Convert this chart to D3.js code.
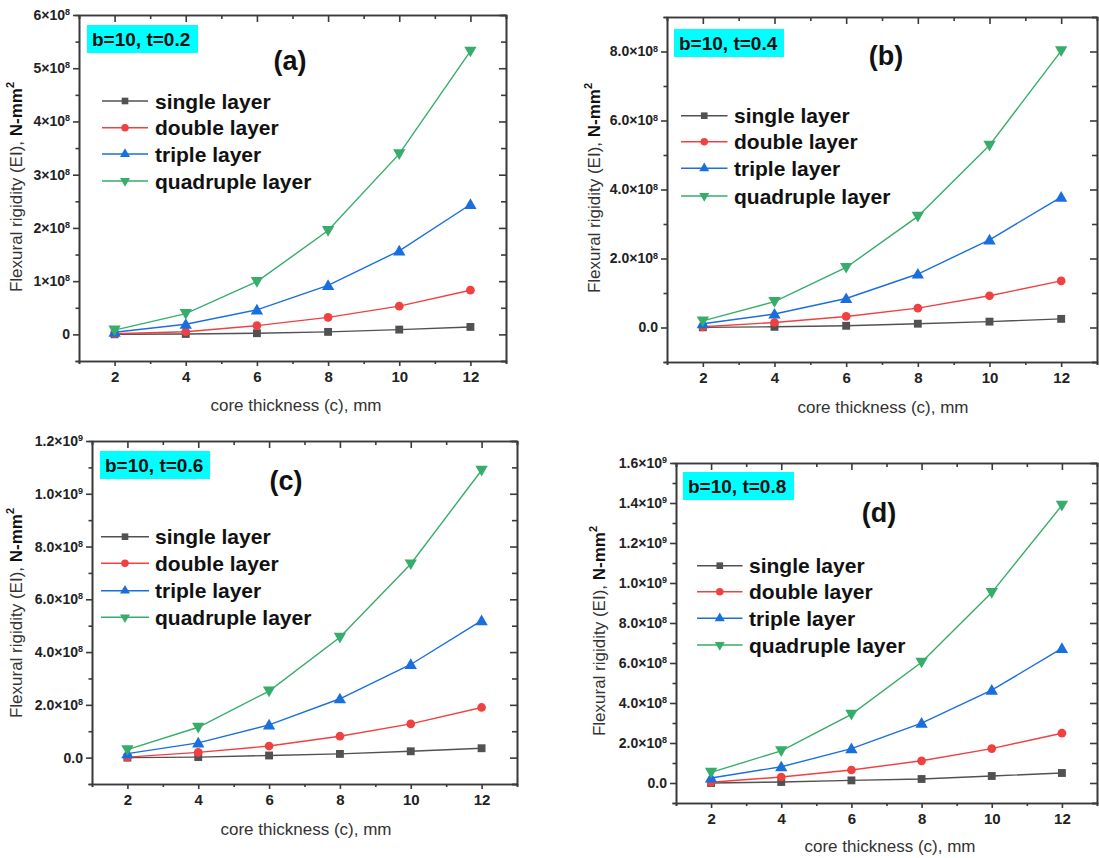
<!DOCTYPE html>
<html>
<head>
<meta charset="utf-8">
<script src="https://cdn.jsdelivr.net/npm/d3@7"></script>
<style>
  body { margin: 0; background: #fff; }
  svg { display: block; }
  text { font-family: "Liberation Sans", Arial, Helvetica, sans-serif; }
</style>
</head>
<body>
<svg id="fig" width="1099" height="858"></svg>
<script>
// Core thickness (c), mm
const thickness = [2, 4, 6, 8, 10, 12];
const xTickValues = [2, 4, 6, 8, 10, 12];
const seriesNames = ["single layer", "double layer", "triple layer", "quadruple layer"];
const panelLetters = ["(a)", "(b)", "(c)", "(d)"];
const panelTags = ["b=10, t=0.2", "b=10, t=0.4", "b=10, t=0.6", "b=10, t=0.8"];

// Flexural rigidity EI (N-mm²), t = 0.2
const singleA = [0.002e8, 0.008e8, 0.022e8, 0.047e8, 0.09e8, 0.14e8];
const doubleA = [0.012e8, 0.05e8, 0.165e8, 0.32e8, 0.53e8, 0.83e8];
const tripleA = [0.04e8, 0.19e8, 0.46e8, 0.92e8, 1.57e8, 2.44e8];
const quadA   = [0.08e8, 0.39e8, 0.99e8, 1.95e8, 3.39e8, 5.32e8];

// t = 0.4
const singleB = [0.005e8, 0.02e8, 0.05e8, 0.11e8, 0.17e8, 0.25e8];
const doubleB = [0.02e8, 0.145e8, 0.32e8, 0.56e8, 0.92e8, 1.35e8];
const tripleB = [0.11e8, 0.39e8, 0.84e8, 1.55e8, 2.54e8, 3.78e8];
const quadB   = [0.19e8, 0.75e8, 1.74e8, 3.22e8, 5.28e8, 8.02e8];

// t = 0.6
const singleC = [0.0e8, 0.02e8, 0.08e8, 0.14e8, 0.24e8, 0.355e8];
const doubleC = [0.02e8, 0.2e8, 0.44e8, 0.81e8, 1.28e8, 1.90e8];
const tripleC = [0.15e8, 0.56e8, 1.24e8, 2.23e8, 3.53e8, 5.19e8];
const quadC   = [0.30e8, 1.15e8, 2.52e8, 4.56e8, 7.34e8, 10.89e8];

// t = 0.8
const singleD = [0.0e8, 0.05e8, 0.13e8, 0.2e8, 0.35e8, 0.5e8];
const doubleD = [0.04e8, 0.3e8, 0.65e8, 1.11e8, 1.72e8, 2.49e8];
const tripleD = [0.25e8, 0.81e8, 1.72e8, 2.99e8, 4.64e8, 6.73e8];
const quadD   = [0.53e8, 1.61e8, 3.43e8, 6.04e8, 9.52e8, 13.88e8];

// Y axis tick values per panel
const yTicksA = [0, 1e8, 2e8, 3e8, 4e8, 5e8, 6e8];
const yTicksB = [0, 2e8, 4e8, 6e8, 8e8];
const yTicksC = [0, 2e8, 4e8, 6e8, 8e8, 1.0e9, 1.2e9];
const yTicksD = [0, 2e8, 4e8, 6e8, 8e8, 1.0e9, 1.2e9, 1.4e9, 1.6e9];

const yDomainA = [-0.5e8, 6e8];
const yDomainB = [-1e8, 9e8];
const yDomainC = [-1e8, 1.2e9];
const yDomainD = [-1e8, 1.6e9];
const xDomain = [1, 13];

// Series styling (Origin "Bright" palette)
const colors = ["#515151", "#F14040", "#1A6FDF", "#37AD6B"];
const symbols = [d3.symbolSquare, d3.symbolCircle, d3.symbolTriangle, d3.symbolTriangle];
const symbolRotate = [0, 0, 0, 180];

const panels = [
  { series: [singleA, doubleA, tripleA, quadA], yTicks: yTicksA, yDomain: yDomainA, yStep: 0.5e8, intLabels: true,
    frame: { l: 79, t: 15, r: 506, b: 361 },
    tag: { x: 87, y: 25, w: 111, h: 28 }, letter: { x: 290, y: 60 },
    legend: { x0: 102, x1: 148, tx: 155, rows: [101, 127.7, 154, 181] },
    yLabel: { x: 15.5, y: 187 }, xLabel: { x: 296, y: 405 } },
  { series: [singleB, doubleB, tripleB, quadB], yTicks: yTicksB, yDomain: yDomainB, yStep: 1e8, intLabels: false,
    frame: { l: 667, t: 17, r: 1097, b: 362 },
    tag: { x: 674, y: 29, w: 110, h: 28 }, letter: { x: 886, y: 55 },
    legend: { x0: 681, x1: 727.5, tx: 734, rows: [115.7, 141.7, 168.3, 196] },
    yLabel: { x: 593.6, y: 188 }, xLabel: { x: 883, y: 407 } },
  { series: [singleC, doubleC, tripleC, quadC], yTicks: yTicksC, yDomain: yDomainC, yStep: 1e8, intLabels: false,
    frame: { l: 92, t: 441, r: 517, b: 784 },
    tag: { x: 100, y: 451, w: 110, h: 28 }, letter: { x: 286, y: 480 },
    legend: { x0: 101, x1: 149, tx: 155, rows: [536.7, 563.3, 590.7, 617.3] },
    yLabel: { x: 15.6, y: 613 }, xLabel: { x: 306, y: 829 } },
  { series: [singleD, doubleD, tripleD, quadD], yTicks: yTicksD, yDomain: yDomainD, yStep: 1e8, intLabels: false,
    frame: { l: 676, t: 463, r: 1097, b: 803 },
    tag: { x: 683, y: 472, w: 111, h: 28 }, letter: { x: 879, y: 512 },
    legend: { x0: 697, x1: 742.5, tx: 749, rows: [565.7, 591.7, 618.3, 645] },
    yLabel: { x: 599, y: 631 }, xLabel: { x: 890, y: 846 } }
];

const svg = d3.select("#fig");
const axisColor = "#3a3a3a";

// Writes "m×10^e" tick text with a raised exponent
function writeSci(textSel, v, intLabels) {
  textSel.text(null);
  if (v === 0) { textSel.text(intLabels ? "0" : "0.0"); return; }
  const e = Math.floor(Math.log10(v) + 1e-9);
  const m = v / Math.pow(10, e);
  const mant = intLabels ? String(Math.round(m)) : m.toFixed(1);
  textSel.append("tspan").text(mant + "\u00d710");
  textSel.append("tspan").attr("dy", "-0.55em").attr("font-size", "9px").text(String(e));
}

function symbolPath(i, size) {
  return d3.symbol().type(symbols[i]).size(size)();
}

panels.forEach((p, pi) => {
  const f = p.frame;
  const x = d3.scaleLinear().domain(xDomain).range([f.l, f.r]);
  const y = d3.scaleLinear().domain(p.yDomain).range([f.b, f.t]);
  const g = svg.append("g");

  const xMinor = d3.range(xDomain[0], xDomain[1] + 0.001, 1).filter(v => xTickValues.indexOf(v) < 0);
  const yMinor = d3.range(p.yDomain[0], p.yDomain[1] + 1, p.yStep)
    .filter(v => !p.yTicks.some(t => Math.abs(t - v) < 1));

  const styleAxis = sel => {
    sel.selectAll("path, line").attr("stroke", axisColor).attr("stroke-width", 1.6);
  };

  // minor ticks
  g.append("g").attr("transform", `translate(0,${f.b})`)
    .call(d3.axisBottom(x).tickValues(xMinor).tickSize(3).tickFormat("")).call(styleAxis);
  g.append("g").attr("transform", `translate(0,${f.t})`)
    .call(d3.axisTop(x).tickValues(xMinor).tickSize(-4).tickFormat("")).call(styleAxis);
  g.append("g").attr("transform", `translate(${f.l},0)`)
    .call(d3.axisLeft(y).tickValues(yMinor).tickSize(3.5).tickFormat("")).call(styleAxis);
  g.append("g").attr("transform", `translate(${f.r},0)`)
    .call(d3.axisRight(y).tickValues(yMinor).tickSize(-5).tickFormat("")).call(styleAxis);

  // top and right frame with inward major ticks
  g.append("g").attr("transform", `translate(0,${f.t})`)
    .call(d3.axisTop(x).tickValues(xTickValues).tickSizeInner(-7).tickSizeOuter(0).tickFormat(""))
    .call(styleAxis);
  g.append("g").attr("transform", `translate(${f.r},0)`)
    .call(d3.axisRight(y).tickValues(p.yTicks).tickSizeInner(-7).tickSizeOuter(0).tickFormat(""))
    .call(styleAxis);

  // bottom axis
  const xa = g.append("g").attr("transform", `translate(0,${f.b})`)
    .call(d3.axisBottom(x).tickValues(xTickValues).tickSizeInner(5).tickSizeOuter(0).tickPadding(5))
    .call(styleAxis);
  xa.selectAll(".tick text").attr("font-size", "15px").attr("font-weight", "bold")
    .attr("fill", "#222").attr("font-family", "Liberation Sans, Arial, sans-serif");

  // left axis
  const ya = g.append("g").attr("transform", `translate(${f.l},0)`)
    .call(d3.axisLeft(y).tickValues(p.yTicks).tickSizeInner(6).tickSizeOuter(0).tickPadding(3))
    .call(styleAxis);
  ya.selectAll(".tick text").attr("font-size", "14px").attr("font-weight", "bold")
    .attr("fill", "#222").attr("font-family", "Liberation Sans, Arial, sans-serif")
    .each(function(d) { writeSci(d3.select(this), d, p.intLabels); });

  // series lines and markers
  const line = d3.line().x((d, i) => x(thickness[i])).y(d => y(d));
  p.series.forEach((vals, si) => {
    g.append("path").datum(vals).attr("d", line)
      .attr("fill", "none").attr("stroke", colors[si]).attr("stroke-width", 1.4);
    g.selectAll(null).data(vals).enter().append("path")
      .attr("d", symbolPath(si, si === 1 ? 60 : (si >= 2 ? 66 : 62)))
      .attr("transform", (d, i) => `translate(${x(thickness[i])},${y(d) + (si === 3 ? -1 : (si === 2 ? 1 : 0))}) rotate(${symbolRotate[si]})`)
      .attr("fill", colors[si]);
  });

  // parameter tag
  g.append("rect").attr("x", p.tag.x).attr("y", p.tag.y).attr("width", p.tag.w).attr("height", p.tag.h)
    .attr("fill", "#00FFFF");
  g.append("text").attr("x", p.tag.x + 5).attr("y", p.tag.y + p.tag.h / 2).attr("dy", "0.36em")
    .attr("font-size", "19px").attr("font-weight", "bold").attr("fill", "#111").text(panelTags[pi]);

  // panel letter
  g.append("text").attr("x", p.letter.x).attr("y", p.letter.y).attr("dy", "0.36em")
    .attr("text-anchor", "middle").attr("font-size", "27px").attr("font-weight", "bold")
    .attr("fill", "#111").text(panelLetters[pi]);

  // legend
  seriesNames.forEach((name, si) => {
    const ry = p.legend.rows[si];
    g.append("line").attr("x1", p.legend.x0).attr("x2", p.legend.x1).attr("y1", ry).attr("y2", ry)
      .attr("stroke", colors[si]).attr("stroke-width", 1.4);
    g.append("path").attr("d", symbolPath(si, 44))
      .attr("transform", `translate(${(p.legend.x0 + p.legend.x1) / 2},${ry}) rotate(${symbolRotate[si]})`)
      .attr("fill", colors[si]);
    g.append("text").attr("x", p.legend.tx).attr("y", ry).attr("dy", "0.36em")
      .attr("font-size", "21px").attr("font-weight", "bold").attr("fill", "#111").text(name);
  });

  // axis titles
  const yt = g.append("text").attr("transform", `translate(${p.yLabel.x},${p.yLabel.y}) rotate(-90)`)
    .attr("text-anchor", "middle").attr("dy", "0.36em").attr("font-size", "17px").attr("fill", "#333");
  yt.append("tspan").text("Flexural rigidity (EI), ");
  yt.append("tspan").attr("font-weight", "bold").attr("fill", "#111").text("N-mm");
  yt.append("tspan").attr("font-weight", "bold").attr("fill", "#111").attr("font-size", "11px")
    .attr("dy", "-0.7em").text("2");

  g.append("text").attr("x", p.xLabel.x).attr("y", p.xLabel.y).attr("dy", "0.36em")
    .attr("text-anchor", "middle").attr("font-size", "17px").attr("fill", "#333")
    .text("core thickness (c), mm");
});
</script>
</body>
</html>
